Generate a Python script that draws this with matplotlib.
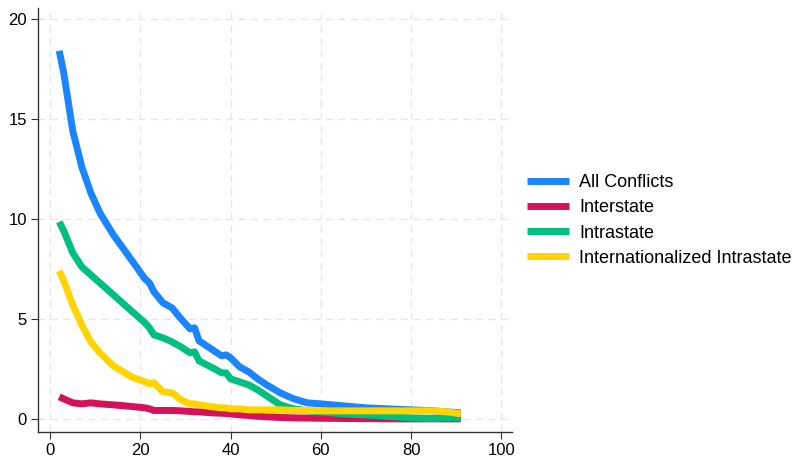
import matplotlib
matplotlib.use('Agg')
import matplotlib.pyplot as plt

plt.rcParams['font.family'] = ['Liberation Sans', 'DejaVu Sans']

# years since conflict onset (x) and rates for each conflict type
years = [2, 3, 5, 7, 9, 11, 14, 18, 21, 22, 23, 25, 27, 29, 31, 32, 33, 36, 38, 39,
         40, 42, 44, 46, 48, 51, 54, 57, 60, 65, 70, 75, 80, 85, 88, 91]
all_conflicts = [18.4, 17.3, 14.4, 12.6, 11.3, 10.3, 9.2, 7.95, 7.0, 6.8, 6.35, 5.8, 5.55, 5.0,
                 4.5, 4.55, 3.9, 3.45, 3.15, 3.2, 3.05, 2.6, 2.35, 2.0, 1.7, 1.3, 1.0, 0.8,
                 0.75, 0.65, 0.55, 0.5, 0.45, 0.4, 0.35, 0.3]
interstate = [1.1, 1.0, 0.8, 0.75, 0.8, 0.75, 0.7, 0.62, 0.55, 0.5, 0.42, 0.42, 0.42, 0.4,
              0.37, 0.35, 0.35, 0.3, 0.28, 0.27, 0.25, 0.2, 0.17, 0.13, 0.1, 0.07, 0.05, 0.04,
              0.03, 0.02, 0.01, 0.0, 0.0, 0.0, 0.0, 0.0]
intrastate = [9.85, 9.4, 8.3, 7.6, 7.2, 6.8, 6.2, 5.4, 4.8, 4.55, 4.2, 4.05, 3.85, 3.6,
              3.3, 3.35, 2.9, 2.55, 2.3, 2.3, 2.0, 1.85, 1.7, 1.45, 1.15, 0.7, 0.5, 0.4,
              0.35, 0.25, 0.2, 0.12, 0.05, 0.02, 0.05, 0.05]
internationalized = [7.4, 6.9, 5.7, 4.7, 3.85, 3.3, 2.65, 2.1, 1.85, 1.75, 1.8, 1.35, 1.3, 0.95,
                     0.75, 0.75, 0.7, 0.6, 0.55, 0.55, 0.5, 0.5, 0.45, 0.45, 0.45, 0.45, 0.42, 0.42,
                     0.4, 0.4, 0.4, 0.4, 0.4, 0.4, 0.35, 0.25]

labels = ['All Conflicts', 'Interstate', 'Intrastate', 'Internationalized Intrastate']
colors = ['#1a85ff', '#d41159', '#00bf7f', '#ffd400']

fig = plt.figure(figsize=(7.92, 4.57), dpi=100)
ax = fig.add_axes([0.048, 0.055, 0.598, 0.928])

for ys, lab, col in zip([all_conflicts, interstate, intrastate, internationalized], labels, colors):
    ax.plot(years, ys, color=col, lw=5, label=lab, solid_capstyle='butt', solid_joinstyle='round')

ax.set_xlim(-2.7, 102.3)
ax.set_ylim(-0.65, 20.55)
ax.set_xticks([0, 20, 40, 60, 80, 100])
ax.set_yticks([0, 5, 10, 15, 20])
ax.grid(True, color='#e6e6e6', linestyle=(0, (5, 4)), linewidth=1)
ax.set_axisbelow(True)
for s in ['top', 'right']:
    ax.spines[s].set_visible(False)
for s in ['left', 'bottom']:
    ax.spines[s].set_color('#333333')
    ax.spines[s].set_linewidth(1)
ax.tick_params(labelsize=12, length=5, color='#333333', pad=3)

fig.legend(loc='center left', bbox_to_anchor=(527 / 792, 1 - 220.5 / 457), frameon=False,
           fontsize=13, handlelength=2.3, handletextpad=0.6, labelspacing=0.45,
           borderpad=0, borderaxespad=0)

fig.savefig('out.png', dpi=100)
